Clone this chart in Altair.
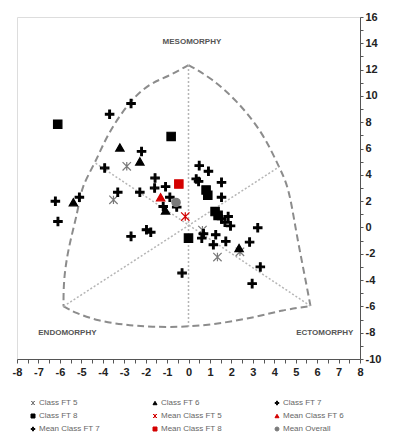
import altair as alt
import pandas as pd

FONT = "Liberation Sans"

# ---------------- data ----------------
series_names = ["Class FT 5", "Class FT 6", "Class FT 7", "Class FT 8",
                "Mean Class FT 5", "Mean Class FT 6", "Mean Class FT 7",
                "Mean Class FT 8", "Mean Overall"]

ft5_x = [-2.88, -3.50, 0.65, 1.35, 2.40]
ft5_y = [4.65, 2.10, -0.20, -2.25, -1.85]

ft6_x = [-3.20, -2.27, -5.37, 2.36, -1.07]
ft6_y = [6.08, 5.02, 1.92, -1.56, 1.29]

ft7_x = [-3.68, -2.68, -2.19, -3.91, 0.50, 0.93, -1.56, 0.36, 0.47, 1.54,
         1.54, -3.30, -2.27, -1.58, -1.07, -0.87, -1.18, -6.21, -5.09, -6.09,
         -2.68, -1.96, -1.76, 1.54, 1.70, 1.85, 1.96, 3.23, 0.70, 0.62,
         1.27, 1.16, 1.74, 2.85, 3.35, 2.97, -0.30]
ft7_y = [8.61, 9.42, 5.78, 4.52, 4.70, 4.27, 3.76, 3.69, 3.50, 3.43,
         2.30, 2.68, 2.68, 3.00, 3.10, 2.30, 1.59, 1.99, 2.30, 0.45,
         -0.68, -0.17, -0.36, 0.65, 0.40, 0.83, 0.12, -0.02, -0.48, -0.81,
         -0.55, -1.31, -1.06, -1.11, -3.00, -4.27, -3.46]

ft8_x = [-6.10, -0.81, 0.82, 0.90, 1.24, 1.38, 0.00]
ft8_y = [7.85, 6.92, 2.85, 2.45, 1.21, 0.92, -0.81]

mean_ft5_x, mean_ft5_y = [-0.15], [0.83]
mean_ft6_x, mean_ft6_y = [-1.30], [2.30]
mean_ft7_x, mean_ft7_y = [-0.55], [1.55]
mean_ft8_x, mean_ft8_y = [-0.45], [3.30]
mean_all_x, mean_all_y = [-0.58], [1.90]

# somatochart outline
arc_left_x = [0.0, -0.99, -1.77, -2.70, -3.76, -4.35, -5.00, -5.14, -5.60, -5.83, -5.83]
arc_left_y = [12.35, 11.44, 10.99, 9.70, 7.18, 4.90, 3.08, 1.33, -1.48, -3.99, -6.0]
arc_right_x = [0.0, 0.99, 2.24, 3.48, 4.22, 4.68, 5.00, 5.46, 5.69]
arc_right_y = [12.35, 11.44, 9.70, 7.18, 4.60, 3.08, -0.19, -3.99, -5.97]
arc_bottom_x = [-5.83, -5.28, -4.22, -2.97, -1.77, 0.02, 1.64, 3.16, 4.40, 5.69]
arc_bottom_y = [-6.0, -6.5, -7.10, -7.41, -7.57, -7.57, -7.26, -6.81, -6.27, -5.97]

inner_x1 = [0.0, -5.83, 5.69]
inner_y1 = [12.35, -6.0, -5.97]
inner_x2 = [0.0, 4.22, -4.35]
inner_y2 = [-7.57, 4.60, 4.90]

axis_names = ["MESOMORPHY", "ENDOMORPHY", "ECTOMORPHY"]
axis_name_x = [0.16, -5.65, 6.36]
axis_name_y = [14.1, -8.0, -8.0]

y_tick_values = list(range(-10, 17))
x_tick_values = [v / 2 for v in range(-16, 17)]

# ---------------- tables ----------------
groups = [
    (series_names[0], ft5_x, ft5_y), (series_names[1], ft6_x, ft6_y),
    (series_names[2], ft7_x, ft7_y), (series_names[3], ft8_x, ft8_y),
    (series_names[4], mean_ft5_x, mean_ft5_y), (series_names[5], mean_ft6_x, mean_ft6_y),
    (series_names[6], mean_ft7_x, mean_ft7_y), (series_names[7], mean_ft8_x, mean_ft8_y),
    (series_names[8], mean_all_x, mean_all_y),
]
rows = []
for name, xs, ys in groups:
    for x, y in zip(xs, ys):
        rows.append({"series": name, "x": x, "y": y})
pts = pd.DataFrame(rows)

orows = []
for seg, xs, ys in [("L", arc_left_x, arc_left_y), ("R", arc_right_x, arc_right_y),
                    ("B", arc_bottom_x, arc_bottom_y)]:
    for i, (x, y) in enumerate(zip(xs, ys)):
        orows.append({"seg": seg, "i": i, "x": x, "y": y})
outline = pd.DataFrame(orows)

inner = pd.DataFrame({"x": inner_x1, "y": inner_y1, "x2": inner_x2, "y2": inner_y2})
names = pd.DataFrame({"name": axis_names, "x": axis_name_x, "y": axis_name_y})

# ---------------- styles ----------------
ASTER = "M-1,-1L1,1M-1,1L1,-1M0,-1L0,1"
PLUS = "M-1,-0.2H-0.2V-1H0.2V-0.2H1V0.2H0.2V1H-0.2V0.2H-1Z"
RED = "#d40000"
GRAY = "#7a7a7a"
style = {
    "Class FT 5": (ASTER, "transparent", GRAY),
    "Class FT 6": ("triangle-up", "black", "black"),
    "Class FT 7": (PLUS, "black", "black"),
    "Class FT 8": ("square", "black", "black"),
    "Mean Class FT 5": (ASTER, "transparent", RED),
    "Mean Class FT 6": ("triangle-up", RED, RED),
    "Mean Class FT 7": (PLUS, "black", "black"),
    "Mean Class FT 8": ("square", RED, RED),
    "Mean Overall": ("circle", GRAY, GRAY),
}
# legend is filled column by column (3 rows)
legend_order = [series_names[i] for i in (0, 3, 6, 1, 4, 7, 2, 5, 8)]
shapes = [style[s][0] for s in legend_order]
fills = [style[s][1] for s in legend_order]
strokes = [style[s][2] for s in legend_order]

xscale = alt.Scale(domain=[-8, 8], nice=False, zero=False)
yscale = alt.Scale(domain=[-10, 16], nice=False, zero=False)

x_axis = alt.Axis(values=x_tick_values, tickCount=100,
                  labelExpr="datum.value % 1 == 0 ? '' + datum.value : ''",
                  title=None, grid=False, labelFont=FONT, labelFontWeight="bold",
                  labelFontSize=11, labelColor="#222", domainColor="#555",
                  tickColor="#555", tickSize=4, labelPadding=3, labelOverlap=False,
                  labelFlush=False)
y_axis = alt.Axis(orient="right", values=y_tick_values, tickCount=100,
                  labelExpr="datum.value % 2 == 0 ? '' + datum.value : ''",
                  title=None, grid=False, labelFont=FONT, labelFontWeight="bold",
                  labelFontSize=11, labelColor="#222", domainColor="#555",
                  tickColor="#555", tickSize=3, labelPadding=2, labelOverlap=False,
                  labelFlush=False, labelBound=False)

outline_layer = alt.Chart(outline).mark_line(
    interpolate="basis", color="#8c8c8c", strokeWidth=2, strokeDash=[7, 4]
).encode(
    x=alt.X("x:Q", scale=xscale, axis=x_axis),
    y=alt.Y("y:Q", scale=yscale, axis=y_axis),
    detail="seg:N",
    order="i:Q",
)

inner_layer = alt.Chart(inner).mark_rule(
    color="#b5b5b5", strokeWidth=1.5, strokeDash=[2, 2]
).encode(x="x:Q", y="y:Q", x2="x2:Q", y2="y2:Q")

names_layer = alt.Chart(names).mark_text(
    font=FONT, fontSize=8, fontWeight="bold", color="#555"
).encode(x="x:Q", y="y:Q", text="name:N")

legend = alt.Legend(
    title=None, orient="none", legendX=12, legendY=382, columns=3,
    columnPadding=51, rowPadding=5, gridAlign="all", symbolSize=16,
    symbolStrokeWidth=1, labelFont=FONT, labelFontSize=8, labelColor="#666",
    labelOffset=2,
)

points_layer = alt.Chart(pts).mark_point(size=70, strokeWidth=1.2, opacity=1).encode(
    x="x:Q",
    y="y:Q",
    shape=alt.Shape("series:N", scale=alt.Scale(domain=legend_order, range=shapes), legend=legend),
    fill=alt.Fill("series:N", scale=alt.Scale(domain=legend_order, range=fills), legend=legend),
    stroke=alt.Stroke("series:N", scale=alt.Scale(domain=legend_order, range=strokes), legend=legend),
)

chart = alt.layer(outline_layer, inner_layer, names_layer, points_layer).properties(
    width=343, height=342,
    padding={"left": 9, "top": 9, "right": 25, "bottom": 74},
    autosize=alt.AutoSizeParams(type="none"),
).configure_view(stroke=None).configure(background="white")

chart.save("out.html", embed_options={"renderer": "svg", "actions": False})
